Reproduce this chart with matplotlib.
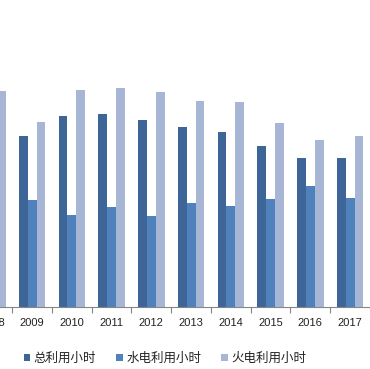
import numpy as np
import matplotlib.pyplot as plt

plt.rcParams['font.family'] = ['Noto Sans CJK SC', 'DejaVu Sans']

years = ['2008', '2009', '2010', '2011', '2012', '2013', '2014', '2015', '2016', '2017']
total_hours = [4600, 4275, 4775, 4825, 4675, 4500, 4375, 4025, 3725, 3725]
hydro_hours = [3000, 2675, 2300, 2500, 2275, 2600, 2525, 2700, 3025, 2725]
thermal_hours = [5400, 4625, 5425, 5475, 5375, 5150, 5125, 4600, 4175, 4275]
series_names = ['总利用小时', '水电利用小时', '火电利用小时']
colors = ['#3E6598', '#4F81BD', '#A7B6D5']


def main():
    fig = plt.figure(figsize=(3.70, 3.69), dpi=100)
    # axes runs past both sides of the figure, the reference is a crop
    ax = fig.add_axes([0, 62 / 369, 1, 307 / 369])

    x = np.arange(len(years))
    w = 1 / 4.5
    for k, vals in enumerate([total_hours, hydro_hours, thermal_hours]):
        ax.bar(x + (k - 1) * w, vals, width=w, color=colors[k],
               label=series_names[k], zorder=2)

    ax.set_xlim(7.75 / 40.25, (370 + 7.75) / 40.25)
    ax.set_ylim(0, 7675)

    for s in ['top', 'right', 'left']:
        ax.spines[s].set_visible(False)
    ax.spines['bottom'].set_color('#868686')
    ax.spines['bottom'].set_linewidth(0.8)
    ax.set_yticks([])

    ax.set_xticks(x + 0.5, minor=False)
    ax.set_xticklabels([])
    ax.tick_params(axis='x', which='major', length=4, color='#868686', direction='out')
    for i, yr in enumerate(years):
        ax.text(i, -0.052, yr, transform=ax.get_xaxis_transform(),
                ha='center', va='center', fontsize=8, color='#222222',
                family='Liberation Sans')

    leg = fig.legend(loc='center', bbox_to_anchor=(165 / 370, 1 - 358 / 369),
                     ncol=3, frameon=False, fontsize=9,
                     handlelength=0.5, handleheight=0.5, handletextpad=0.3,
                     columnspacing=1.6)
    for t in leg.get_texts():
        t.set_color('#222222')

    fig.savefig('out.png', dpi=100)


if __name__ == '__main__':
    main()
